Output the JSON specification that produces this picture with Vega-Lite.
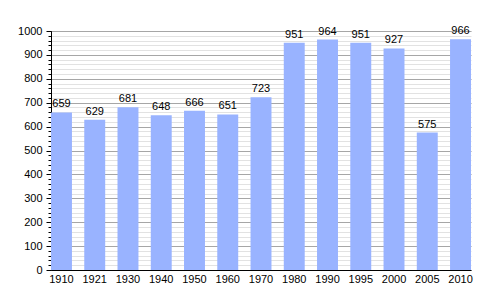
{
  "$schema": "https://vega.github.io/schema/vega-lite/v6.json",
  "autosize": "none",
  "width": 420,
  "height": 239,
  "padding": {"left": 51, "top": 31, "right": 29, "bottom": 30},
  "background": "white",
  "config": {
    "view": {"stroke": null},
    "font": "Liberation Sans",
    "axis": {"labelFont": "Liberation Sans", "labelFontSize": 11, "labelColor": "black"}
  },
  "data": {
    "values": [
      {"year": "1910", "pop": 659},
      {"year": "1921", "pop": 629},
      {"year": "1930", "pop": 681},
      {"year": "1940", "pop": 648},
      {"year": "1950", "pop": 666},
      {"year": "1960", "pop": 651},
      {"year": "1970", "pop": 723},
      {"year": "1980", "pop": 951},
      {"year": "1990", "pop": 964},
      {"year": "1995", "pop": 951},
      {"year": "2000", "pop": 927},
      {"year": "2005", "pop": 575},
      {"year": "2010", "pop": 966}
    ]
  },
  "encoding": {
    "x": {
      "field": "year", "type": "ordinal", "sort": null,
      "scale": {"paddingInner": 0.37, "paddingOuter": 0},
      "axis": {"title": null, "labelAngle": 0, "ticks": false, "domainColor": "black", "domainWidth": 1, "labelPadding": 3, "grid": false}
    }
  },
  "layer": [
    {
      "mark": {"type": "bar", "color": "#99b3ff"},
      "encoding": {
        "y": {
          "field": "pop", "type": "quantitative",
          "scale": {"domain": [0, 1000], "nice": false},
          "axis": {"title": null, "orient": "left", "values": [0,20,40,60,80,100,120,140,160,180,200,220,240,260,280,300,320,340,360,380,400,420,440,460,480,500,520,540,560,580,600,620,640,660,680,700,720,740,760,780,800,820,840,860,880,900,920,940,960,980,1000],
                   "labels": false, "grid": true, "gridColor": "#e2e2e2", "gridWidth": 1, "tickSize": 3, "tickColor": "black", "domain": false}
        }
      }
    },
    {
      "mark": {"type": "text", "baseline": "bottom", "dy": -3, "fontSize": 11, "color": "black", "font": "Liberation Sans"},
      "encoding": {
        "y": {
          "field": "pop", "type": "quantitative",
          "scale": {"domain": [0, 1000], "nice": false},
          "axis": {"title": null, "orient": "left", "values": [0,100,200,300,400,500,600,700,800,900,1000], "format": "d",
                   "grid": true, "gridColor": "#a6a6a6", "gridWidth": 1, "tickSize": 5, "tickColor": "black", "domainColor": "black", "labelPadding": 4}
        },
        "text": {"field": "pop", "type": "quantitative", "format": "d"}
      }
    }
  ],
  "resolve": {"axis": {"y": "independent"}}
}
